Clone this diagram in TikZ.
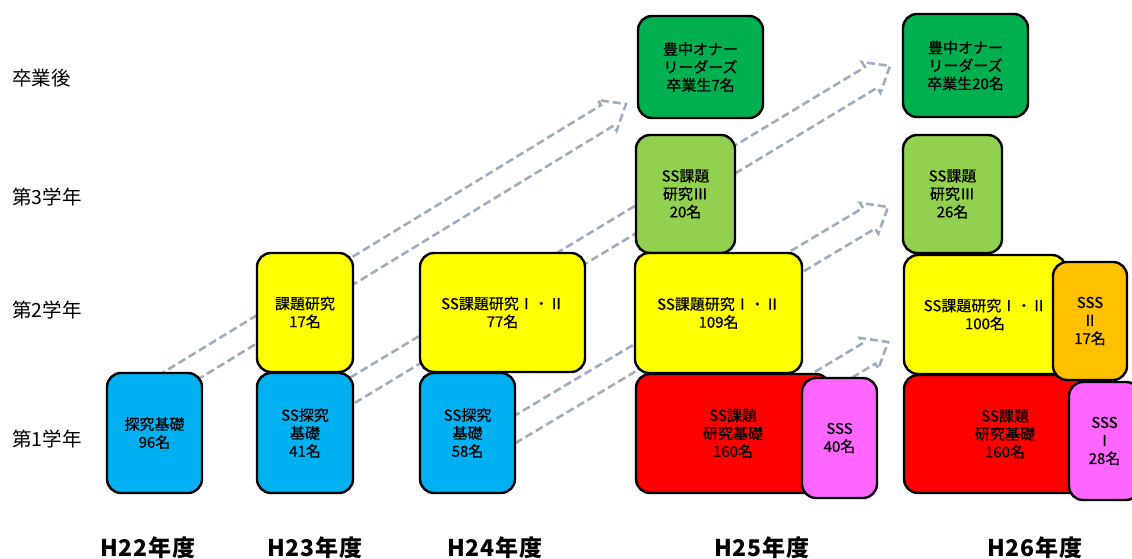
\documentclass[tikz,border=0pt]{standalone}
\usepackage{fontspec}
\setmainfont{Noto Sans CJK JP}
\newfontfamily\boxfont[FakeBold=0.6]{Noto Sans CJK JP}
\newfontfamily\yearfont[LetterSpace=4]{Noto Sans CJK JP}
\definecolor{flowcol}{RGB}{160,172,194}
\definecolor{cblue}{RGB}{0,176,240}
\definecolor{cyellow}{RGB}{255,255,0}
\definecolor{clgreen}{RGB}{146,208,80}
\definecolor{cdgreen}{RGB}{0,176,80}
\definecolor{cred}{RGB}{255,0,0}
\definecolor{cmag}{RGB}{255,102,255}
\definecolor{corange}{RGB}{255,192,0}
\newcommand\flowarrow[3]{%
  \draw[flow, shift={(#1)}, rotate=#2] (-#3,-12) -- (-22,-12) -- (-22,-18) -- (0,0) -- (-22,18) -- (-22,12) -- (-#3,12);}
\begin{document}
\begin{tikzpicture}[x=1pt,y=-1pt,
  box/.style={draw=black, line width=2.4pt, rounded corners=14pt, inner sep=0pt, align=center, font=\boxfont\fontsize{15}{18}\selectfont},
  rowlab/.style={anchor=west, inner sep=0pt, font=\fontsize{19.5}{22}\selectfont},
  yearlab/.style={inner sep=0pt, font=\yearfont\bfseries\fontsize{23}{26}\selectfont},
  flow/.style={draw=flowcol, line width=2.6pt, dash pattern=on 8pt off 4pt, line join=miter}]
\useasboundingbox (0,0) rectangle (1132,559);
\clip (0,0) rectangle (1132,559);

% row labels
\node[rowlab] (r0) at (12,78) {卒業後};
\node[rowlab] (r3) at (12,197) {第3学年};
\node[rowlab] (r2) at (12,310) {第2学年};
\node[rowlab] (r1) at (12,439) {第1学年};

% year labels
\node[yearlab] (y22) at (148,548) {H22年度};
\node[yearlab] (y23) at (315,548) {H23年度};
\node[yearlab] (y24) at (495,548) {H24年度};
\node[yearlab] (y25) at (762,548) {H25年度};
\node[yearlab] (y26) at (1035,548) {H26年度};

% flow arrows (behind the boxes)
\coordinate (f1) at (626,104);
\coordinate (f2) at (890,66);
\coordinate (f3) at (888,207);
\coordinate (f4) at (888,342);
\flowarrow{f1}{31.4}{541}
\flowarrow{f2}{31.1}{647}
\flowarrow{f3}{30.8}{454}
\flowarrow{f4}{31.0}{126}

% H22
\node[box, fill=cblue, minimum width=95pt, minimum height=120pt] (b22) at (154.5,433) {探究基礎\\96名};
% H23
\node[box, fill=cyellow, minimum width=96pt, minimum height=119pt] (b23y) at (305,312.5) {課題研究\\17名};
\node[box, fill=cblue, minimum width=96pt, minimum height=120pt] (b23b) at (305,433) {SS探究\\基礎\\41名};
% H24
\node[box, fill=cyellow, minimum width=165pt, minimum height=119pt] (b24y) at (502.5,312.5) {SS課題研究Ⅰ・Ⅱ\\77名};
\node[box, fill=cblue, minimum width=95pt, minimum height=120pt] (b24b) at (467.5,433) {SS探究\\基礎\\58名};
% H25
\node[box, fill=cdgreen, minimum width=125pt, minimum height=102pt] (b25g) at (700.5,67) {豊中オナー\\リーダーズ\\卒業生7名};
\node[box, fill=clgreen, minimum width=99pt, minimum height=118pt] (b25l) at (685.5,194) {SS課題\\研究Ⅲ\\20名};
\node[box, fill=cyellow, minimum width=167pt, minimum height=120pt] (b25y) at (718.5,313) {SS課題研究Ⅰ・Ⅱ\\109名};
\node[box, fill=cred, minimum width=194pt, minimum height=119pt] (b25r) at (733,433.5) {SS課題\\研究基礎\\160名};
\node[box, fill=cmag, minimum width=75pt, minimum height=120pt] (b25m) at (839.5,438) {SSS\\40名};
% H26
\node[box, fill=cdgreen, minimum width=125pt, minimum height=103pt] (b26g) at (965.5,65.5) {豊中オナー\\リーダーズ\\卒業生20名};
\node[box, fill=clgreen, minimum width=99pt, minimum height=118pt] (b26l) at (952.5,194) {SS課題\\研究Ⅲ\\26名};
\node[box, fill=cyellow, minimum width=162pt, minimum height=119pt] (b26y) at (985,314.5) {SS課題研究Ⅰ・Ⅱ\\100名};
\node[box, fill=cred, minimum width=202pt, minimum height=118pt] (b26r) at (1005,434) {SS課題\\研究基礎\\160名};
\node[box, fill=corange, minimum width=74pt, minimum height=118pt] (b26o) at (1090,321) {SSS\\Ⅱ\\17名};
\node[box, fill=cmag, minimum width=71pt, minimum height=118pt] (b26m) at (1104.5,441) {SSS\\Ⅰ\\28名};
\end{tikzpicture}
\end{document}
